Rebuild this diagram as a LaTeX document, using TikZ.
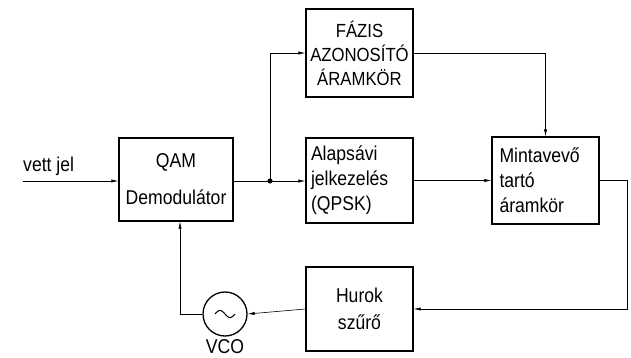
\documentclass[tikz,border=0pt]{standalone}
\usepackage{fontspec}
\setmainfont[FakeStretch=0.88]{Liberation Sans}
\usetikzlibrary{arrows.meta,calc}
\begin{document}
\begin{tikzpicture}[x=1pt,y=-1pt,
  blk/.style={draw,line width=1.3pt,inner sep=0pt,font=\fontsize{20}{25}\selectfont},
  wire/.style={line width=0.6pt},
  arr/.style={wire,-{Latex[length=7pt,width=3.2pt]}},
  lbl/.style={font=\fontsize{20}{22}\selectfont,inner sep=0pt}]
\useasboundingbox (0,0) rectangle (631,358);
\node[blk,minimum width=114pt,minimum height=83pt,align=center,font=\fontsize{20}{37}\selectfont] (qam) at (176,179.5) {QAM\\Demodulátor};
\node[blk,minimum width=107pt,minimum height=88pt,align=center,font=\fontsize{19}{24}\selectfont] (faz) at (359.5,53) {FÁZIS\\AZONOSÍTÓ\\ÁRAMKÖR};
\node[blk,minimum width=107pt,minimum height=85pt,align=left,text width=97pt] (alap) at (359.5,180.5) {Alapsávi\\jelkezelés\\(QPSK)};
\node[blk,minimum width=107pt,minimum height=87pt,align=left,text width=92pt] (minta) at (545.5,180.5) {Mintavevő\\tartó\\áramkör};
\node[blk,minimum width=107pt,minimum height=84pt,align=center,font=\fontsize{20}{27}\selectfont] (hurok) at (359.5,309) {Hurok\\szűrő};
\node[draw,circle,line width=1.3pt,minimum size=44pt,inner sep=0pt] (vco) at (225,314) {};
\draw[line width=1pt] plot[domain=-10:10,samples=40] ({225+\x},{314+3.5*sin(\x*18)});
\node[lbl,anchor=north] (vcol) at (225,339) {VCO};
\coordinate (in) at (23,181);
\node[lbl,anchor=south west] (vett) at (23,176) {vett jel};
\coordinate (dot) at (270,181);
\coordinate (rc) at (627,250);
\draw[arr] (in) -- (in -| qam.west);
\draw[wire] (dot -| qam.east) -- (dot);
\fill (dot) circle (2.6pt);
\draw[arr] (dot) -- (dot -| alap.west);
\draw[arr] (dot) |- (faz.west);
\draw[arr] (faz.east) -| (minta.north);
\draw[arr] (alap.east) -- (alap.east -| minta.west);
\draw[wire] (minta.east) -| (rc);
\draw[arr] (rc) |- (hurok.east);
\draw[arr] (hurok.west) -- (vco.east);
\draw[arr] (vco.west) -| ($(qam.south)+(4,0)$);
\end{tikzpicture}
\end{document}
